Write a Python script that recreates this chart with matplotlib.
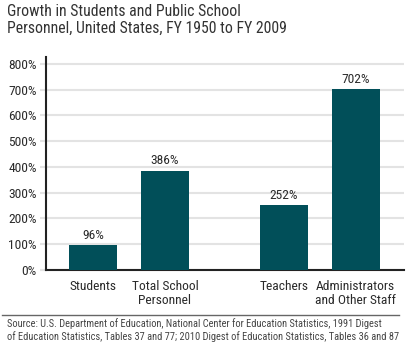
import matplotlib
matplotlib.use('Agg')
from matplotlib import pyplot as plt
from matplotlib import font_manager

categories = ['Students', 'Total School\nPersonnel', 'Teachers', 'Administrators\nand Other Staff']
growth = [96, 386, 252, 702]
positions = [0, 1, 2.65, 3.65]
yticks = [0, 100, 200, 300, 400, 500, 600, 700, 800]

names = set(f.name for f in font_manager.fontManager.ttflist)
fam = ['Liberation Sans Narrow'] if 'Liberation Sans Narrow' in names else ['Roboto Condensed', 'DejaVu Sans']
plt.rcParams['font.family'] = fam + ['DejaVu Sans']

bar_color = '#014f59'
text_color = '#2b2b2b'

fig = plt.figure(figsize=(4.13, 3.49), dpi=100)
W, H = 413, 349
ax = fig.add_axes([46 / W, 1 - 270 / H, (404 - 46) / W, (270 - 57) / H])

ax.bar(positions, growth, width=0.667, color=bar_color, zorder=3)
for x, v in zip(positions, growth):
    ax.text(x, v + 12, f'{v}%', ha='center', va='bottom', fontsize=9.7, color=text_color)

ax.set_xlim(-0.653, 4.32)
ax.set_ylim(0, 827)
ax.set_yticks(yticks)
ax.set_yticklabels([f'{t}%' for t in yticks], fontsize=9.7, color=text_color)
ax.set_xticks(positions)
ax.set_xticklabels(categories, fontsize=9.7, color=text_color, linespacing=1.12)
ax.tick_params(axis='x', length=0, pad=7)
ax.tick_params(axis='y', length=4.5, width=1.5, color='#e3e3e3', pad=2)
ax.yaxis.grid(True, color='#e3e3e3', linewidth=1.5, zorder=0)
ax.set_axisbelow(True)

for s in ['top', 'right']:
    ax.spines[s].set_visible(False)
ax.spines['left'].set_linewidth(1.5)
ax.spines['bottom'].set_linewidth(1.5)
ax.spines['left'].set_color('#222222')
ax.spines['bottom'].set_color('#222222')

fig.text(7 / W, 1 - 4 / H, 'Growth in Students and Public School\nPersonnel, United States, FY 1950 to FY 2009',
         ha='left', va='top', fontsize=11.3, color='#333333', linespacing=1.15)

fig.add_artist(plt.Line2D([2 / W, 399 / W], [1 - 315 / H, 1 - 315 / H], color='#666666', linewidth=1))
fig.text(7 / W, 1 - 318 / H,
         'Source: U.S. Department of Education, National Center for Education Statistics, 1991 Digest\n'
         'of Education Statistics, Tables 37 and 77; 2010 Digest of Education Statistics, Tables 36 and 87',
         ha='left', va='top', fontsize=7.45, color='#444444', linespacing=1.3)

fig.savefig('out.png', dpi=100)
